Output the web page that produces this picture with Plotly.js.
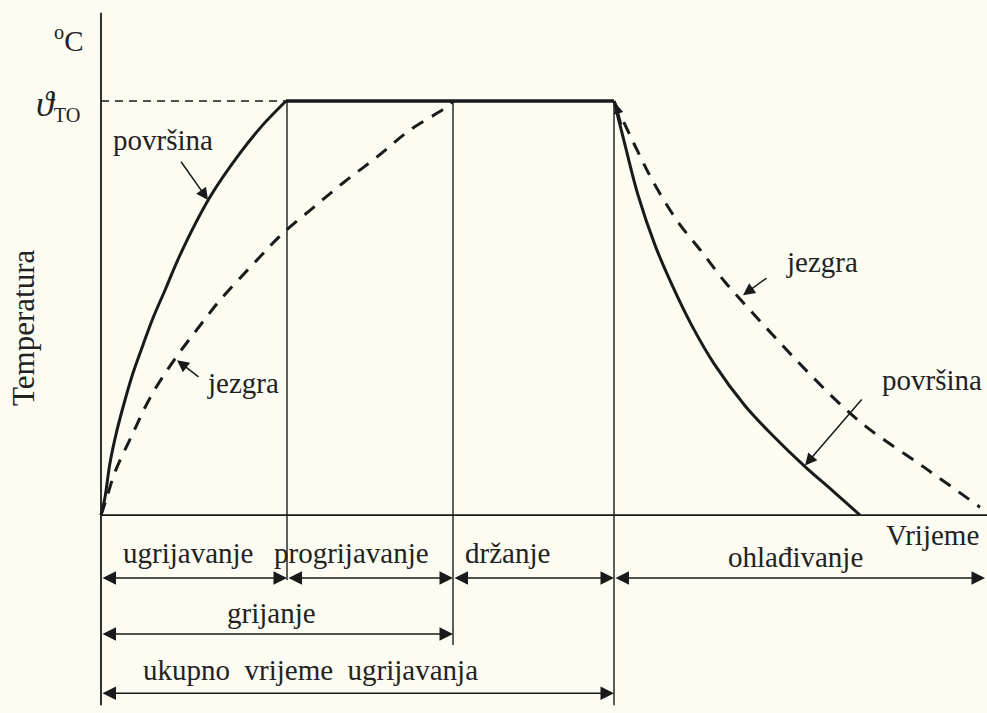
<!DOCTYPE html>
<html>
<head>
<meta charset="utf-8">
<script src="https://cdn.plot.ly/plotly-3.0.1.min.js"></script>
<style>html,body{margin:0;padding:0;background:#fcfcf2;}#chart{width:987px;height:713px;}</style>
</head>
<body>
<div id="chart"></div>
<script>
// ---- data (time in arbitrary units, temperature in % of ϑTO) ----
const T_TO = 100;
const phaseBounds = [0, 18.6, 35.2, 51.3, 88.4];
const phaseLabels = ['ugrijavanje', 'progrijavanje', 'držanje', 'ohlađivanje'];

const tSurfHeat = [0, 0.4, 0.9, 1.6, 2.4, 3.2, 4.2, 5.2, 6.4, 7.9, 10.9, 13.9, 16.1, 18.5];
const TSurfHeat = [0, 4.3, 12.6, 20.5, 27.8, 34.3, 41.1, 47.6, 54.3, 62.8, 76.8, 87.4, 94.0, 100];

const tCoreHeat = [0, 0.5, 1.4, 3.1, 4.9, 7.1, 10.1, 11.9, 15.6, 18.2, 21.2, 24.2, 27.6, 30.9, 34.6, 35.2];
const TCoreHeat = [0, 3.6, 10.4, 19.3, 28.3, 36.7, 46.4, 51.9, 61.6, 68.1, 74.2, 80.2, 86.5, 93.0, 98.6, 100];

const tHold = [18.5, 51.3];
const THold = [100, 100];

const tSurfCool = [51.3, 52.4, 53.7, 55.4, 57.1, 59.1, 61.4, 64.4, 67.1, 70.4, 73.2, 75.9];
const TSurfCool = [100, 89.4, 77.3, 65.2, 55.6, 45.7, 36.2, 26.4, 19.4, 11.7, 5.8, 0];

const tCoreCool = [51.3, 53.7, 55.4, 57.7, 60.1, 62.4, 65.1, 68.1, 70.7, 73.7, 76.7, 82.4, 87.9];
const TCoreCool = [100, 87.7, 79.7, 70.8, 63.5, 56.3, 49.0, 41.1, 34.5, 27.3, 21.0, 11.4, 1.9];

const tEnd = 88.6;

// ---- styling ----
const INK = '#1a1a1a';
const SERIF = '"Liberation Serif", "Times New Roman", serif';
const FONT = {family: SERIF, size: 29, color: '#222'};

const traces = [];
function line(x, y, width, dash, shape) {
  traces.push({type: 'scatter', mode: 'lines', x: x, y: y, hoverinfo: 'skip', showlegend: false,
    line: {color: INK, width: width, dash: dash || 'solid', shape: shape || 'linear', smoothing: 1}});
}
// axes
line([0, 0], [121.3, -45.9], 1.8);
line([0, tEnd], [0, 0], 1.8);
// phase separators
line([phaseBounds[1], phaseBounds[1]], [T_TO, -15.7], 1.4);
line([phaseBounds[2], phaseBounds[2]], [T_TO, -31.4], 1.4);
line([phaseBounds[3], phaseBounds[3]], [T_TO, -45.9], 1.4);
// ϑTO level
line([0, phaseBounds[1]], [T_TO, T_TO], 1.4, '8px,6px');
// curves
line(tSurfHeat, TSurfHeat, 3, 'solid', 'spline');
line(tCoreHeat, TCoreHeat, 3, '13px,10px', 'spline');
line(tHold, THold, 3.5);
line(tSurfCool, TSurfCool, 3, 'solid', 'spline');
line(tCoreCool, TCoreCool, 3, '13px,10px', 'spline');

const annotations = [];
function label(text, x, y, opts) {
  annotations.push(Object.assign({text: text, x: x, y: y, xref: 'x', yref: 'y', showarrow: false,
    font: FONT, xanchor: 'center', yanchor: 'middle'}, opts || {}));
}
function arrow(x0, y0, x1, y1, both, size) {
  const s = size || 1.8;
  annotations.push({text: '', x: x1, y: y1, ax: x0, ay: y0, xref: 'x', yref: 'y', axref: 'x', ayref: 'y',
    showarrow: true, arrowhead: 2, startarrowhead: 2, arrowside: both ? 'end+start' : 'end',
    arrowsize: s, startarrowsize: s, arrowwidth: 1.5, arrowcolor: INK, standoff: 0, startstandoff: 0});
}

// phase labels and dimension arrows
label(phaseLabels[0], 8.7, -9.2);
label(phaseLabels[1], 25.0, -9.2);
label(phaseLabels[2], 40.6, -9.2);
label(phaseLabels[3], 69.4, -10.1);
arrow(phaseBounds[0], -15.2, phaseBounds[1], -15.2, true);
arrow(phaseBounds[1], -15.2, phaseBounds[2], -15.2, true);
arrow(phaseBounds[2], -15.2, phaseBounds[3], -15.2, true);
arrow(phaseBounds[3], -15.2, phaseBounds[4], -15.2, true);

label('grijanje', 17.0, -23.7);
arrow(phaseBounds[0], -28.7, phaseBounds[2], -28.7, true);

label('ukupno\u00a0\u00a0vrijeme\u00a0\u00a0ugrijavanja', 20.9, -37.4);
arrow(phaseBounds[0], -43.0, phaseBounds[3], -43.0, true);

// axis labels
label('Vrijeme', 83.1, -4.8);
label('Temperatura', -7.7, 45.2, {textangle: -90, font: {family: SERIF, size: 31, color: '#222'}});
label('<sup>o</sup>C', -3.3, 114.9);
label('<span style="font-size:36px"><i>\u03d1</i></span><sub>TO</sub>', -4.3, 99.0);

// curve labels with pointers
label('površina', 6.2, 90.6);
arrow(7.9, 85.7, 10.7, 76.1, false, 1.6);
label('jezgra', 14.2, 31.9);
arrow(9.9, 33.1, 7.6, 37.4, false, 1.6);
label('jezgra', 72.1, 61.1);
arrow(66.7, 57.5, 64.2, 53.1, false, 1.6);
label('površina', 83.1, 32.6);
arrow(76.2, 28.3, 70.4, 12.0, false, 1.6);
// small arrowhead at the start of the core cooling curve
arrow(52.1, 94.0, 51.5, 99.3, false, 1.3);

const layout = {
  width: 987, height: 713,
  margin: {l: 0, r: 0, t: 0, b: 0, pad: 0},
  paper_bgcolor: '#fcfcf2', plot_bgcolor: '#fcfcf2',
  xaxis: {range: [-10.1, 88.6], visible: false, fixedrange: true},
  yaxis: {range: [-47.8, 124.4], visible: false, fixedrange: true},
  annotations: annotations,
  showlegend: false
};

Plotly.newPlot('chart', traces, layout, {displayModeBar: false, staticPlot: true});
</script>
</body>
</html>
